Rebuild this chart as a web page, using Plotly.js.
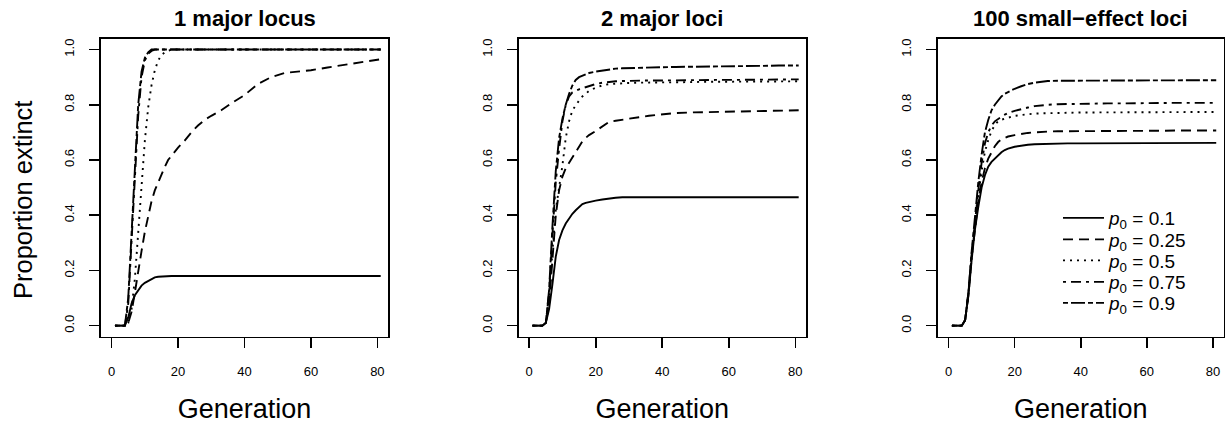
<!DOCTYPE html>
<html>
<head>
<meta charset="utf-8">
<script src="https://cdn.plot.ly/plotly-3.0.1.min.js"></script>
<style>html,body{margin:0;padding:0;background:#fff;}#chart{width:1225px;height:427px;}</style>
</head>
<body>
<div id="chart"></div>
<script>
// Generation values at which curves were read
const generations = [1,2,3,4,5,6,7,8,9,10,11,12,13,14,15,16,17,18,20,22,24,26,28,30,33,36,40,44,48,52,56,60,65,70,75,81];

const panelTitles = ["1 major locus", "2 major loci", "100 small\u2212effect loci"];
const seriesNames = ["<i>p</i><sub>0</sub> = 0.1", "<i>p</i><sub>0</sub> = 0.25", "<i>p</i><sub>0</sub> = 0.5", "<i>p</i><sub>0</sub> = 0.75", "<i>p</i><sub>0</sub> = 0.9"];

// Panel 1: 1 major locus
const oneLocus_p010 = [0,0,0,0,0.03,0.08,0.11,0.13,0.145,0.155,0.162,0.17,0.175,0.177,0.178,0.179,0.18,0.18,0.18,0.18,0.18,0.18,0.18,0.18,0.18,0.18,0.18,0.18,0.18,0.18,0.18,0.18,0.18,0.18,0.18,0.18];
const oneLocus_p025 = [0,0,0,0,0.01,0.05,0.12,0.2,0.27,0.34,0.4,0.45,0.49,0.52,0.55,0.575,0.6,0.615,0.645,0.67,0.7,0.725,0.745,0.76,0.78,0.805,0.835,0.875,0.9,0.915,0.92,0.925,0.935,0.945,0.955,0.965];
const oneLocus_p050 = [0,0,0,0,0.01,0.06,0.17,0.34,0.52,0.67,0.79,0.87,0.925,0.96,0.98,0.99,0.995,1,1,1,1,1,1,1,1,1,1,1,1,1,1,1,1,1,1,1];
const oneLocus_p075 = [0,0,0,0,0.08,0.3,0.55,0.76,0.9,0.96,0.985,0.995,1,1,1,1,1,1,1,1,1,1,1,1,1,1,1,1,1,1,1,1,1,1,1,1];
const oneLocus_p090 = [0,0,0,0,0.1,0.34,0.6,0.8,0.92,0.97,0.99,1,1,1,1,1,1,1,1,1,1,1,1,1,1,1,1,1,1,1,1,1,1,1,1,1];

// Panel 2: 2 major loci
const twoLoci_p010 = [0,0,0,0,0.01,0.06,0.15,0.25,0.31,0.345,0.37,0.39,0.405,0.418,0.43,0.44,0.445,0.448,0.453,0.457,0.461,0.463,0.465,0.465,0.465,0.465,0.465,0.465,0.465,0.465,0.465,0.465,0.465,0.465,0.465,0.465];
const twoLoci_p025 = [0,0,0,0,0.01,0.08,0.24,0.4,0.49,0.54,0.57,0.59,0.605,0.625,0.648,0.668,0.68,0.69,0.705,0.722,0.738,0.742,0.745,0.748,0.755,0.76,0.766,0.77,0.772,0.773,0.773,0.774,0.777,0.779,0.78,0.78];
const twoLoci_p050 = [0,0,0,0,0.01,0.1,0.27,0.42,0.5,0.58,0.68,0.74,0.78,0.8,0.815,0.83,0.84,0.85,0.862,0.87,0.875,0.877,0.878,0.879,0.88,0.88,0.881,0.882,0.882,0.883,0.883,0.884,0.884,0.885,0.885,0.885];
const twoLoci_p075 = [0,0,0,0,0.01,0.12,0.33,0.52,0.64,0.74,0.8,0.83,0.845,0.852,0.856,0.86,0.864,0.868,0.875,0.88,0.883,0.885,0.886,0.887,0.887,0.888,0.888,0.889,0.889,0.89,0.89,0.89,0.891,0.891,0.892,0.892];
const twoLoci_p090 = [0,0,0,0,0.01,0.13,0.36,0.56,0.68,0.75,0.8,0.84,0.87,0.89,0.9,0.905,0.91,0.915,0.92,0.924,0.928,0.931,0.932,0.933,0.934,0.935,0.936,0.937,0.938,0.939,0.94,0.94,0.941,0.941,0.942,0.942];

// Panel 3: 100 small-effect loci
const smallLoci_p010 = [0,0,0,0,0.02,0.11,0.24,0.35,0.43,0.5,0.545,0.576,0.593,0.606,0.618,0.628,0.636,0.641,0.648,0.652,0.655,0.657,0.658,0.659,0.66,0.66,0.66,0.66,0.661,0.661,0.661,0.661,0.661,0.662,0.662,0.662];
const smallLoci_p025 = [0,0,0,0,0.02,0.11,0.25,0.36,0.45,0.52,0.57,0.605,0.628,0.65,0.665,0.675,0.68,0.685,0.69,0.695,0.698,0.7,0.702,0.703,0.704,0.704,0.705,0.705,0.705,0.706,0.706,0.706,0.706,0.707,0.707,0.707];
const smallLoci_p050 = [0,0,0,0,0.02,0.11,0.25,0.37,0.47,0.56,0.63,0.672,0.705,0.727,0.74,0.746,0.75,0.754,0.76,0.763,0.766,0.768,0.769,0.77,0.771,0.771,0.772,0.772,0.772,0.773,0.773,0.773,0.773,0.774,0.774,0.774];
const smallLoci_p075 = [0,0,0,0,0.02,0.12,0.26,0.38,0.49,0.59,0.66,0.7,0.725,0.74,0.75,0.757,0.764,0.77,0.778,0.785,0.79,0.795,0.798,0.8,0.802,0.803,0.804,0.805,0.805,0.805,0.806,0.806,0.806,0.807,0.807,0.807];
const smallLoci_p090 = [0,0,0,0,0.02,0.12,0.27,0.4,0.52,0.62,0.7,0.745,0.78,0.8,0.817,0.83,0.84,0.847,0.858,0.867,0.875,0.88,0.884,0.886,0.887,0.887,0.888,0.888,0.888,0.889,0.889,0.889,0.889,0.889,0.889,0.889];

const xTicks = [0,20,40,60,80];
const yTicks = [0,0.2,0.4,0.6,0.8,1.0];
const yTickText = ["0.0","0.2","0.4","0.6","0.8","1.0"];

const panels = [
  [oneLocus_p010, oneLocus_p025, oneLocus_p050, oneLocus_p075, oneLocus_p090],
  [twoLoci_p010, twoLoci_p025, twoLoci_p050, twoLoci_p075, twoLoci_p090],
  [smallLoci_p010, smallLoci_p025, smallLoci_p050, smallLoci_p075, smallLoci_p090]
];

const dashes = ["solid", "10px,6px", "2px,5px", "3px,5px,10px,5px", "5px,3px,14px,3px"];
const W = 1225, H = 427;
const FONT = "Liberation Sans, Arial, Helvetica, sans-serif";
const legendIds = ["legend", "legend2", "legend3", "legend4", "legend5"];
const legendRowY = [218, 239.5, 260.5, 282, 303];

const traces = [];
panels.forEach((series, pi) => {
  const ax = pi === 0 ? "" : String(pi + 1);
  series.forEach((vals, si) => {
    traces.push({
      x: generations, y: vals, type: "scatter", mode: "lines",
      xaxis: "x" + ax, yaxis: "y" + ax,
      name: seriesNames[si],
      showlegend: pi === 2,
      legend: legendIds[si],
      line: {color: "#000", width: 1.9, dash: dashes[si]},
      hoverinfo: "skip"
    });
  });
});

const xDomains = [[101, 388], [518.5, 806], [938, 1223.5]];
const yDom = [(H - 336.7) / H, (H - 38.5) / H];

const layout = {
  width: W, height: H,
  margin: {l: 0, r: 0, t: 0, b: 0},
  paper_bgcolor: "#fff", plot_bgcolor: "#fff",
  font: {family: FONT, color: "#000"},
  showlegend: true,
  annotations: [{
    text: "Proportion extinct", xref: "paper", yref: "paper",
    x: 23 / W, y: (H - 200) / H, xanchor: "center", yanchor: "middle",
    textangle: -90, showarrow: false,
    font: {family: FONT, size: 25.5, color: "#000"}
  }]
};

legendIds.forEach((id, k) => {
  layout[id] = {
    x: 1058 / W, y: (H - legendRowY[k]) / H, xanchor: "left", yanchor: "middle",
    bgcolor: "rgba(0,0,0,0)", borderwidth: 0,
    font: {family: FONT, size: 19, color: "#000"},
    itemwidth: 41
  };
});

xDomains.forEach((d, i) => {
  const ax = i === 0 ? "" : String(i + 1);
  layout["xaxis" + ax] = {
    domain: [d[0] / W, d[1] / W], anchor: "y" + ax,
    range: [-3.2, 83.2], tickvals: xTicks, ticktext: xTicks.map(String),
    showgrid: false, zeroline: false, showline: true, mirror: true,
    linecolor: "#000", linewidth: 1.6,
    ticks: "outside", ticklen: 10, tickwidth: 1.6, tickcolor: "#000",
    tickfont: {family: FONT, size: 13, color: "#000"},
    ticklabelstandoff: 12,
    title: {text: "Generation", font: {family: FONT, size: 27, color: "#000"}, standoff: 21}
  };
  layout["yaxis" + ax] = {
    domain: yDom, anchor: "x" + ax,
    range: [-0.04, 1.04], tickvals: yTicks, ticktext: yTickText,
    showgrid: false, zeroline: false, showline: true, mirror: true,
    linecolor: "#000", linewidth: 1.6,
    ticks: "outside", ticklen: 10, tickwidth: 1.6, tickcolor: "#000",
    tickangle: -90,
    tickfont: {family: FONT, size: 13, color: "#000"},
    ticklabelstandoff: 10
  };
  layout.annotations.push({
    text: panelTitles[i], xref: "paper", yref: "paper",
    x: (d[0] + d[1]) / 2 / W, y: (H - 18) / H, xanchor: "center", yanchor: "middle",
    showarrow: false, font: {family: FONT, size: 22, color: "#000", weight: "bold"}
  });
});

Plotly.newPlot("chart", traces, layout, {displayModeBar: false, staticPlot: true});
</script>
</body>
</html>
